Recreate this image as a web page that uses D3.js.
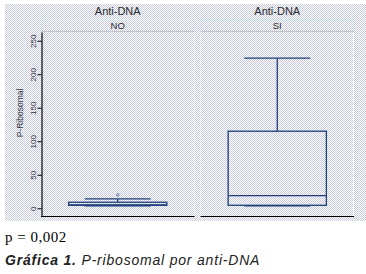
<!DOCTYPE html>
<html>
<head>
<meta charset="utf-8">
<script src="https://cdn.jsdelivr.net/npm/d3@7"></script>
<style>
  body { margin: 0; background: #fff; }
  svg { display: block; }
</style>
</head>
<body>
<svg width="366" height="274"></svg>
<script>
// datos
const panels = ["NO", "SI"];
const lowerWhisker = [3.5, 3.5];
const q1 = [4.5, 4.5];
const medians = [5, 19];
const q3 = [9, 115];
const upperWhisker = [14, 224];
const outliers = [[20], []];
const yTicks = [0, 50, 100, 150, 200, 250];

const svg = d3.select("svg");
const boxColor = "#1d3e78";

// fondo tramado
const defs = svg.append("defs");
const pat = defs.append("pattern")
   .attr("id", "dith")
   .attr("width", 2).attr("height", 2)
   .attr("patternUnits", "userSpaceOnUse");
pat.append("rect").attr("width", 2).attr("height", 2).attr("fill", "#ffffff");
pat.append("rect").attr("width", 1).attr("height", 1).attr("fill", "#c6cae4");
pat.append("rect").attr("x", 1).attr("y", 1).attr("width", 1).attr("height", 1).attr("fill", "#c6cae4");

svg.append("rect")
   .attr("x", 5).attr("y", 4)
   .attr("width", 361).attr("height", 217)
   .attr("fill", "url(#dith)");

// escalas
const scX = d3.scaleBand()
   .domain(panels)
   .range([41, 354])
   .paddingInner(0.038);

const scY = d3.scaleLinear()
   .domain([-11.5, 263])
   .range([216, 32]);

const panelBottom = 216;

// tiras de los paneles
panels.forEach(p => {
   const x0 = scX(p), w = scX.bandwidth();
   svg.append("line")
      .attr("x1", x0).attr("x2", x0 + w)
      .attr("y1", 19.5).attr("y2", 19.5)
      .attr("stroke", "#b6e6ec").attr("stroke-dasharray", "1,1");
   svg.append("line")
      .attr("x1", x0).attr("x2", x0 + w)
      .attr("y1", 31.5).attr("y2", 31.5)
      .attr("stroke", "#c2c4cc");
   [x0 + 0.5, x0 + w - 0.5].forEach(x => {
      svg.append("line")
         .attr("x1", x).attr("x2", x)
         .attr("y1", 19.5).attr("y2", 31)
         .attr("stroke", "#bfeaf0").attr("stroke-dasharray", "1,1");
      svg.append("line")
         .attr("x1", x).attr("x2", x)
         .attr("y1", 32).attr("y2", panelBottom)
         .attr("stroke", "#ffffff").attr("stroke-dasharray", "2,1");
   });
   svg.append("text")
      .attr("x", x0 + w / 2).attr("y", 15)
      .attr("text-anchor", "middle")
      .style("font-family", "Liberation Sans, Arial, sans-serif")
      .style("font-size", "11px")
      .attr("fill", "#2b2b2b")
      .text("Anti-DNA");
   svg.append("text")
      .attr("x", x0 + w / 2).attr("y", 29)
      .attr("text-anchor", "middle")
      .style("font-family", "Liberation Sans, Arial, sans-serif")
      .style("font-size", "9.5px")
      .attr("fill", "#2b2b2b")
      .text(p);
   // linea inferior
   svg.append("line")
      .attr("x1", x0).attr("x2", x0 + w)
      .attr("y1", panelBottom + 0.5).attr("y2", panelBottom + 0.5)
      .attr("stroke", "#000").attr("stroke-width", 1.2);
});

// eje Y
const axisY = d3.axisLeft(scY).tickValues(yTicks).tickSize(4).tickSizeOuter(0);
const gY = svg.append("g")
   .attr("transform", `translate(41.5, 0)`)
   .call(axisY);
gY.select(".domain").attr("stroke", "#000").attr("stroke-width", 1.2);
gY.selectAll(".tick line").attr("stroke", "#000");
gY.selectAll(".tick text")
   .attr("x", 0).attr("y", 0).attr("dy", 0)
   .attr("transform", "translate(-6,0) rotate(-90)")
   .style("text-anchor", "middle")
   .style("font-family", "Liberation Sans, Arial, sans-serif")
   .style("font-size", "8px")
   .attr("fill", "#333");

svg.append("text")
   .attr("transform", "translate(23,113) rotate(-90)")
   .attr("text-anchor", "middle")
   .style("font-family", "Liberation Sans, Arial, sans-serif")
   .style("font-size", "8.5px")
   .attr("fill", "#333")
   .text("P-Ribosomal");

// cajas
panels.forEach((p, i) => {
   const w = scX.bandwidth();
   const cx = scX(p) + w / 2;
   const bw = w * 0.64, cw = w * 0.43;
   const g = svg.append("g").attr("stroke", boxColor).attr("fill", "none").attr("stroke-width", 1.3);
   g.append("rect")
      .attr("x", cx - bw / 2).attr("y", scY(q3[i]))
      .attr("width", bw).attr("height", scY(q1[i]) - scY(q3[i]));
   g.append("line")
      .attr("x1", cx - bw / 2).attr("x2", cx + bw / 2)
      .attr("y1", scY(medians[i])).attr("y2", scY(medians[i]));
   g.append("line")
      .attr("x1", cx).attr("x2", cx)
      .attr("y1", scY(upperWhisker[i])).attr("y2", scY(q3[i]));
   g.append("line")
      .attr("x1", cx).attr("x2", cx)
      .attr("y1", scY(q1[i])).attr("y2", scY(lowerWhisker[i]));
   [upperWhisker[i], lowerWhisker[i]].forEach(v => {
      g.append("line")
         .attr("x1", cx - cw / 2).attr("x2", cx + cw / 2)
         .attr("y1", scY(v)).attr("y2", scY(v));
   });
   svg.selectAll(".out" + i)
      .data(outliers[i])
      .enter()
      .append("circle")
      .attr("cx", cx)
      .attr("cy", d => scY(d))
      .attr("r", 1.3)
      .attr("fill", "none")
      .attr("stroke", "#5a6aa0")
      .attr("stroke-width", 0.9);
});

// textos al pie
svg.append("text")
   .attr("x", 5).attr("y", 242)
   .style("font-family", "Liberation Serif, Times New Roman, serif")
   .style("font-size", "15px")
   .style("letter-spacing", "0.5px")
   .attr("fill", "#000")
   .text("p = 0,002");

const cap = svg.append("text")
   .attr("x", 5).attr("y", 265)
   .style("font-family", "Liberation Sans, Arial, sans-serif")
   .style("font-size", "14px")
   .style("letter-spacing", "0.8px")
   .style("font-style", "italic")
   .attr("fill", "#222");
cap.append("tspan").style("font-weight", "bold").text("Gráfica 1.");
cap.append("tspan").text(" P-ribosomal por anti-DNA");
</script>
</body>
</html>
